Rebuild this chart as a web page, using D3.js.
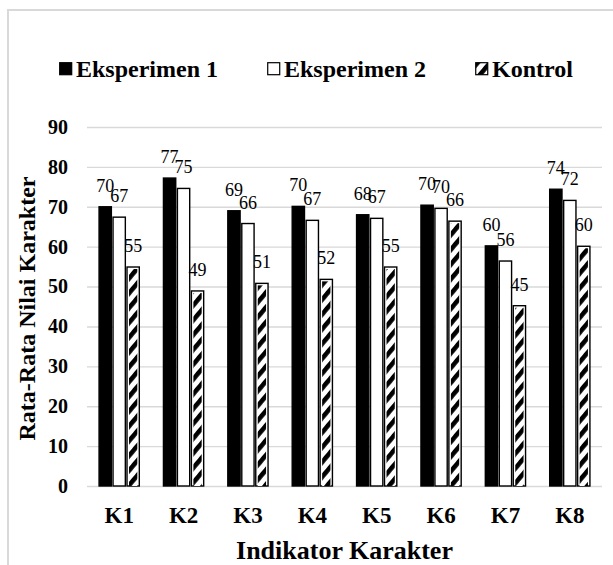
<!DOCTYPE html>
<html>
<head>
<meta charset="utf-8">
<script src="https://cdn.jsdelivr.net/npm/d3@7"></script>
<style>
  body { margin: 0; background: #fff; }
  svg { font-family: "Liberation Serif", "Times New Roman", serif; }
</style>
</head>
<body>
<svg id="chart" width="613" height="565"></svg>
<script>
// data
var categories = ["K1", "K2", "K3", "K4", "K5", "K6", "K7", "K8"];
var seriesNames = ["Eksperimen 1", "Eksperimen 2", "Kontrol"];
var eksperimen1 = [70.0, 77.2, 69.0, 70.1, 68.0, 70.4, 60.2, 74.4];
var eksperimen2 = [67.4, 74.6, 65.8, 66.6, 67.1, 69.6, 56.4, 71.6];
var kontrol = [54.9, 48.9, 50.8, 51.8, 54.9, 66.4, 45.2, 60.1];
var yTicks = [0, 10, 20, 30, 40, 50, 60, 70, 80, 90];

var seriesValues = [eksperimen1, eksperimen2, kontrol];

var svg = d3.select("#chart");

// frame of the chart area (runs off the right and bottom edge)
svg.append("rect")
    .attr("x", 8).attr("y", 10)
    .attr("width", 700).attr("height", 700)
    .attr("fill", "none")
    .attr("stroke", "#d9d9d9")
    .attr("stroke-width", 2);

// hatch pattern for the Kontrol bars
var defs = svg.append("defs");
var pat = defs.append("pattern")
    .attr("id", "hatch")
    .attr("patternUnits", "userSpaceOnUse")
    .attr("width", 10).attr("height", 9.5)
    .attr("patternTransform", "rotate(-50)");
pat.append("rect").attr("width", 10).attr("height", 9.5).attr("fill", "#fff");
pat.append("rect").attr("width", 10).attr("height", 4.6).attr("fill", "#000");

var plotLeft = 87, plotRight = 602, plotTop = 127, plotBottom = 486;

var x0 = d3.scaleBand()
    .domain(categories)
    .range([plotLeft, plotRight])
    .paddingInner(0.375)
    .paddingOuter(0.1875);

var x1 = d3.scaleBand()
    .domain(seriesNames)
    .range([0, x0.bandwidth()])
    .paddingInner(0.12);

var y = d3.scaleLinear()
    .domain([0, 90])
    .range([plotBottom, plotTop]);

// gridlines
svg.append("g")
    .attr("transform", "translate(" + plotLeft + ",0)")
    .call(d3.axisLeft(y).tickValues(yTicks).tickSize(-(plotRight - plotLeft)).tickFormat(""))
    .call(g => g.select(".domain").remove())
    .call(g => g.selectAll("line").attr("stroke", "#d9d9d9").attr("stroke-width", 1.4));

// y tick labels
svg.append("g")
    .attr("transform", "translate(" + plotLeft + ",0)")
    .call(d3.axisLeft(y).tickValues(yTicks).tickSize(0).tickPadding(19))
    .call(g => g.select(".domain").remove())
    .call(g => g.selectAll("text")
        .attr("font-family", "Liberation Serif, serif")
        .attr("font-size", 20)
        .attr("font-weight", "bold")
        .attr("fill", "#000"));

// x tick labels
svg.append("g")
    .attr("transform", "translate(0," + plotBottom + ")")
    .call(d3.axisBottom(x0).tickSize(0).tickPadding(21))
    .call(g => g.select(".domain").remove())
    .call(g => g.selectAll("text")
        .attr("font-family", "Liberation Serif, serif")
        .attr("font-size", 23)
        .attr("font-weight", "bold")
        .attr("fill", "#000"));

// bars
var rows = [];
categories.forEach((c, i) => {
    seriesNames.forEach((s, j) => {
        rows.push({ cat: c, series: s, idx: j, value: seriesValues[j][i] });
    });
});

var fills = ["#000", "#fff", "#fff"];

var bars = svg.append("g").selectAll("g")
    .data(rows)
    .enter().append("g");

bars.append("rect")
    .attr("x", d => x0(d.cat) + x1(d.series))
    .attr("y", d => y(d.value))
    .attr("width", x1.bandwidth())
    .attr("height", d => y(0) - y(d.value))
    .attr("fill", d => fills[d.idx])
    .attr("stroke", "#000")
    .attr("stroke-width", 1.4);

bars.filter(d => d.idx === 2).append("rect")
    .attr("x", d => x0(d.cat) + x1(d.series) + 2)
    .attr("y", d => y(d.value) + 2)
    .attr("width", x1.bandwidth() - 4)
    .attr("height", d => y(0) - y(d.value) - 2)
    .attr("fill", "url(#hatch)");

// value labels
bars.append("text")
    .attr("x", d => x0(d.cat) + x1(d.series) + x1.bandwidth() / 2)
    .attr("y", d => y(d.value) - 15)
    .attr("text-anchor", "middle")
    .attr("font-size", 18)
    .attr("fill", "#000")
    .text(d => Math.round(d.value));

// legend
var legend = svg.append("g").attr("transform", "translate(59,77)");
var lx = 0;
seriesNames.forEach((s, j) => {
    var item = legend.append("g").attr("transform", "translate(" + lx + ",0)");
    item.append("rect")
        .attr("x", 0.7).attr("y", -14.3)
        .attr("width", 12).attr("height", 12)
        .attr("fill", j === 2 ? "url(#hatch)" : fills[j])
        .attr("stroke", "#000")
        .attr("stroke-width", 1.2);
    var t = item.append("text")
        .attr("x", 17)
        .attr("font-size", 24)
        .attr("font-weight", "bold")
        .attr("fill", "#000")
        .text(s);
    lx += 17 + t.node().getComputedTextLength() + 49;
});

// axis titles
svg.append("text")
    .attr("transform", "translate(35," + ((plotTop + plotBottom) / 2 + 2) + ") rotate(-90)")
    .attr("text-anchor", "middle")
    .attr("font-size", 24)
    .attr("font-weight", "bold")
    .attr("fill", "#000")
    .text("Rata-Rata Nilai Karakter");

svg.append("text")
    .attr("x", (plotLeft + plotRight) / 2)
    .attr("y", 559)
    .attr("text-anchor", "middle")
    .attr("font-size", 26)
    .attr("font-weight", "bold")
    .attr("fill", "#000")
    .text("Indikator Karakter");
</script>
</body>
</html>
